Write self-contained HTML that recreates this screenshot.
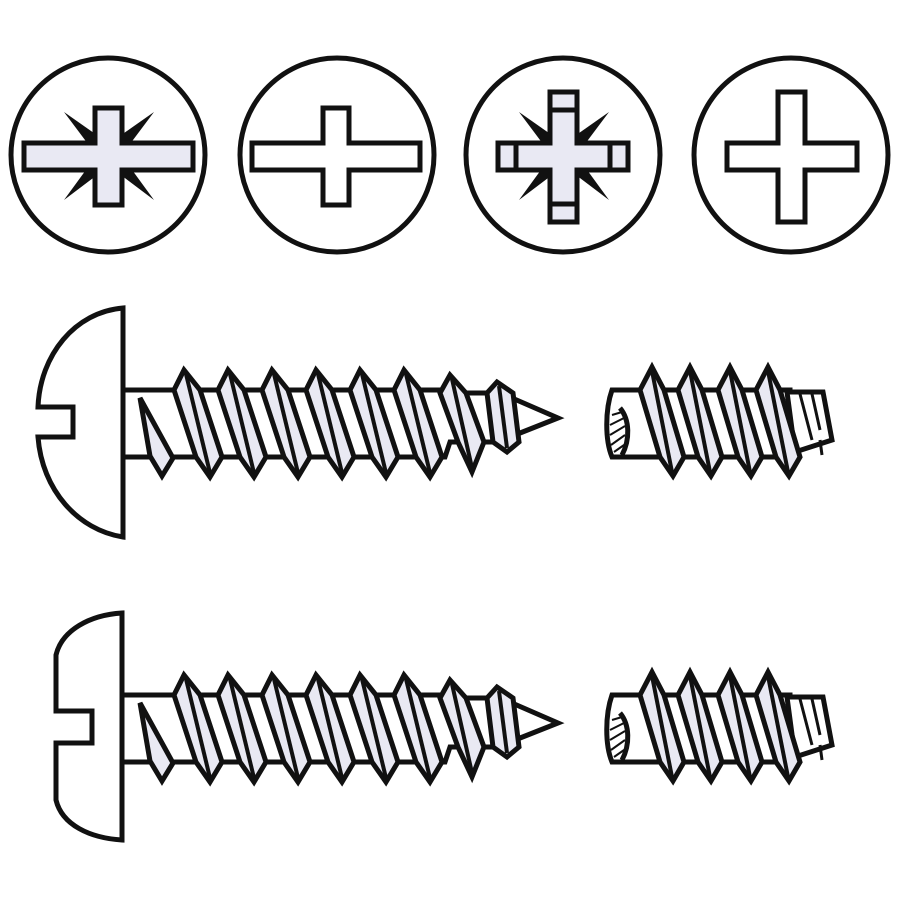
<!DOCTYPE html>
<html><head><meta charset="utf-8"><style>html,body{margin:0;padding:0;background:#fff}svg{display:block}</style></head>
<body>
<svg id="s" width="900" height="900" viewBox="0 0 900 900" xmlns="http://www.w3.org/2000/svg">
<rect width="900" height="900" fill="#fff"/>
<g stroke="#111" stroke-width="5" stroke-linejoin="miter" fill="#fff">
<circle cx="108" cy="155" r="97"/>
<circle cx="337" cy="155" r="97"/>
<circle cx="563" cy="155" r="97"/>
<circle cx="791" cy="155" r="97"/>
</g>
<g fill="#111">
<polygon points="64,112 101,138 91,148"/>
<polygon points="154,112 117,138 127,148"/>
<polygon points="64,200 101,172 91,163"/>
<polygon points="154,200 117,172 127,163"/>
<polygon points="519,112 556,138 546,148"/>
<polygon points="609,112 572,138 582,148"/>
<polygon points="519,200 556,172 546,163"/>
<polygon points="609,200 572,172 582,163"/>
</g>
<g stroke="#111" stroke-width="5" stroke-linejoin="miter">
<path fill="#e9e9f3" d="M95,108H122V143H193V170H122V205H95V170H24V143H95Z"/>
<path fill="#fff" d="M323,108H349V143H420V170H349V205H323V170H252V143H323Z"/>
<path fill="#e9e9f3" d="M550,92H577V143H628V170H577V222H550V170H498V143H550Z"/>
<path fill="none" d="M550,110H577M550,204H577M516,143V170M610,143V170"/>
<path fill="#fff" d="M778,92H805V143H857V170H805V222H778V170H727V143H778Z"/>
</g>
<g id="screws"></g>
</svg>
<script>
var g=document.getElementById('screws'),h='';
function screw(dy,head){
  var S='stroke="#111" stroke-width="5" stroke-linejoin="miter"';
  h+='<g transform="translate(0,'+dy+')">';
  if(head==1){
    h+='<path '+S+' fill="#fff" d="M123,308 C75,312 40,355 38,407 H73 V437 H38 C42,490 78,530 123,537 Z"/>';
  } else {
    h+='<path '+S+' fill="#fff" d="M122,308 C90,310 62,325 56,350 V406 H92 V438 H56 V495 C62,520 90,533 122,535 Z"/>';
  }
  h+='<path '+S+' fill="none" d="M123,390 H445 L450,393 H510 M123,457 H445 L450,442 H510"/>';
  h+='<path '+S+' fill="#fff" d="M512,398 L558,418 L515,435 Z"/>';
  h+='<path '+S+' fill="#e9e9f3" d="M140,398 L173,458 L162,476 L150,456 Z"/>';
  var P=[184,228,272,316,360,404,450,497];
  for(var i=0;i<P.length;i++){
    var p=P[i],top=370,bot=477,w=38,y1=390,y2=457;
    if(i==6){top=375;bot=472;w=34;y1=393;y2=442}
    if(i==7){top=382;bot=452;w=22;y1=393;y2=442}
    h+='<path '+S+' fill="#e9e9f3" d="M'+(p-10)+','+y1+' L'+p+','+top+' L'+(p+16)+','+y1+' L'+(p+w)+','+y2+' L'+(p+w-12)+','+bot+' L'+(p+w-26)+','+y2+' Z"/>';
    h+='<path stroke="#111" stroke-width="4" d="M'+(p+2)+','+(top+4)+' L'+(p+w-12)+','+(bot-4)+'"/>';
  }
  h+='<path '+S+' fill="#fff" d="M612,390 H790 V457 H612 C605,440 605,410 612,390 Z"/>';
  h+='<path '+S+' fill="#fff" d="M787,392 H823 L832,440 L795,452 Z"/>';
  h+='<path stroke="#111" stroke-width="3" fill="none" d="M800,394 L812,440 M812,394 L820,430 M820,440 L822,455"/>';
  h+='<path stroke="#111" stroke-width="2" fill="none" d="M612,415 L622,412 M610,425 L624,418 M610,435 L625,426 M611,445 L625,435 M614,452 L624,445"/>';
  h+='<path '+S+' fill="none" d="M620,408 C630,420 630,440 622,455"/>';
  var R=[652,690,730,768];
  for(var j=0;j<R.length;j++){
    var p=R[j];
    h+='<path '+S+' fill="#e9e9f3" d="M'+(p-12)+',390 L'+p+',367 L'+(p+12)+',390 L'+(p+32)+',457 L'+(p+21)+',476 L'+(p+8)+',457 Z"/>';
    h+='<path stroke="#111" stroke-width="4" d="M'+p+',371 L'+(p+20)+',472"/>';
  }
  h+='</g>';
}
screw(0,1);
screw(305,2);
g.innerHTML=h;
</script>
</body></html>
